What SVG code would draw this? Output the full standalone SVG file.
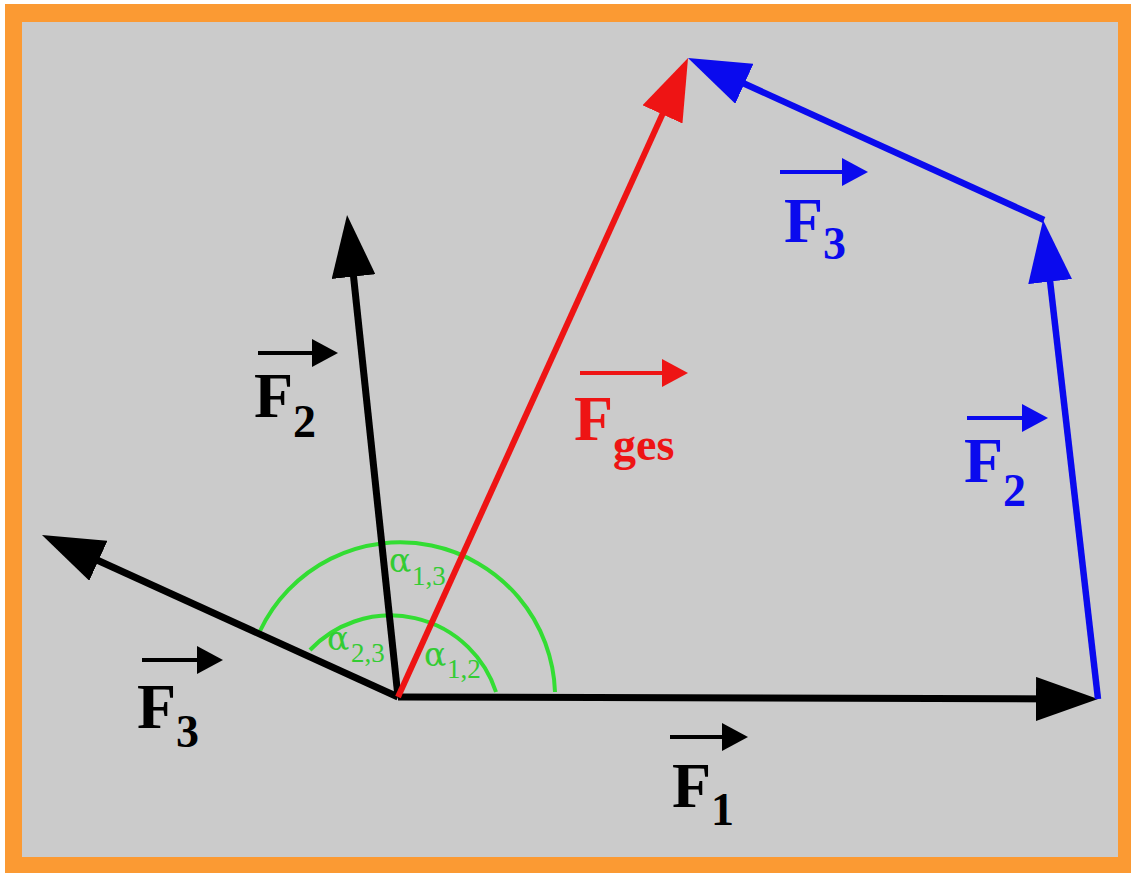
<svg xmlns="http://www.w3.org/2000/svg" width="1131" height="873" viewBox="0 0 1131 873">
<defs>
<style>
.frame{fill:#FB9A33}
.bg{fill:#CBCBCB}
.vk{stroke:#000;stroke-width:7;fill:none}
.vr{stroke:#EE1414;stroke-width:6;fill:none}
.vb{stroke:#0A0AEE;stroke-width:6.5;fill:none}
.sk{stroke:#000;stroke-width:4;fill:none}
.sr{stroke:#EE1414;stroke-width:4;fill:none}
.sb{stroke:#0A0AEE;stroke-width:4;fill:none}
.arc{stroke:#33DD33;stroke-width:4;fill:none}
.lbl{font-family:"Liberation Serif","Times New Roman",serif;font-weight:bold;font-size:64px}
.sub{font-size:46px}
.alpha{font-family:"DejaVu Serif","Liberation Serif",serif;fill:#33CC33;font-size:33px}
.asub{font-family:"Liberation Serif","Times New Roman",serif;font-size:27px}
</style>
<marker id="hk" markerUnits="userSpaceOnUse" viewBox="0 0 62 44" markerWidth="62" markerHeight="44" refX="30" refY="22" orient="auto"><path d="M0,0 L62,22 L0,44 z" fill="#000"/></marker>
<marker id="hr" markerUnits="userSpaceOnUse" viewBox="0 0 62 44" markerWidth="62" markerHeight="44" refX="30" refY="22" orient="auto"><path d="M0,0 L62,22 L0,44 z" fill="#EE1414"/></marker>
<marker id="hb" markerUnits="userSpaceOnUse" viewBox="0 0 62 44" markerWidth="62" markerHeight="44" refX="30" refY="22" orient="auto"><path d="M0,0 L62,22 L0,44 z" fill="#0A0AEE"/></marker>
<marker id="sk" markerUnits="userSpaceOnUse" viewBox="0 0 26 28" markerWidth="26" markerHeight="28" refX="6" refY="14" orient="auto"><path d="M0,0 L26,14 L0,28 z" fill="#000"/></marker>
<marker id="sr" markerUnits="userSpaceOnUse" viewBox="0 0 26 28" markerWidth="26" markerHeight="28" refX="6" refY="14" orient="auto"><path d="M0,0 L26,14 L0,28 z" fill="#EE1414"/></marker>
<marker id="sb" markerUnits="userSpaceOnUse" viewBox="0 0 26 28" markerWidth="26" markerHeight="28" refX="6" refY="14" orient="auto"><path d="M0,0 L26,14 L0,28 z" fill="#0A0AEE"/></marker>
</defs>
<rect x="0" y="0" width="1131" height="873" fill="#fff"/>
<rect class="frame" x="5" y="4" width="1126" height="869"/>
<rect class="bg" x="22" y="22" width="1096" height="835"/>

<g id="angles">
<path class="arc" d="M260,631 A155,155 0 0 1 555,692"/>
<path class="arc" d="M310,650 A111,111 0 0 1 496,692"/>
</g>

<g id="connectors">
<line id="F1" class="vk" x1="398" y1="697" x2="1066" y2="699" marker-end="url(#hk)"/>
<line id="F2" class="vk" x1="398" y1="697" x2="350.4" y2="246.8" marker-end="url(#hk)"/>
<line id="F3" class="vk" x1="398" y1="697" x2="71.1" y2="548.3" marker-end="url(#hk)"/>
<line id="Fges" class="vr" x1="398" y1="697" x2="674.8" y2="87.1" marker-end="url(#hr)"/>
<line id="F2b" class="vb" x1="1098" y1="699" x2="1046.7" y2="251.8" marker-end="url(#hb)"/>
<line id="F3b" class="vb" x1="1044" y1="220" x2="717.1" y2="71.3" marker-end="url(#hb)"/>
</g>

<g id="label-F1">
<line class="sk" x1="670" y1="737" x2="728" y2="737" marker-end="url(#sk)"/>
<text class="lbl" x="672" y="807">F<tspan class="sub" dy="18">1</tspan></text>
</g>
<g id="label-F2">
<line class="sk" x1="258" y1="353" x2="318" y2="353" marker-end="url(#sk)"/>
<text class="lbl" x="254" y="417">F<tspan class="sub" dy="20">2</tspan></text>
</g>
<g id="label-F3">
<line class="sk" x1="142" y1="660" x2="203" y2="660" marker-end="url(#sk)"/>
<text class="lbl" x="137" y="728">F<tspan class="sub" dy="19">3</tspan></text>
</g>
<g id="label-Fges" fill="#EE1414">
<line class="sr" x1="580" y1="373" x2="668" y2="373" marker-end="url(#sr)"/>
<text class="lbl" x="574" y="440">F<tspan class="sub" dy="20">ges</tspan></text>
</g>
<g id="label-F2b" fill="#0A0AEE">
<line class="sb" x1="967" y1="418" x2="1028" y2="418" marker-end="url(#sb)"/>
<text class="lbl" x="964" y="482">F<tspan class="sub" dy="24">2</tspan></text>
</g>
<g id="label-F3b" fill="#0A0AEE">
<line class="sb" x1="780" y1="172" x2="848" y2="172" marker-end="url(#sb)"/>
<text class="lbl" x="784" y="242">F<tspan class="sub" dy="17">3</tspan></text>
</g>

<g id="label-a13">
<text class="alpha" x="389" y="572">α<tspan class="asub" x="412" y="585">1,3</tspan></text>
</g>
<g id="label-a23">
<text class="alpha" x="327" y="650">α<tspan class="asub" x="351" y="662">2,3</tspan></text>
</g>
<g id="label-a12">
<text class="alpha" x="424" y="666">α<tspan class="asub" x="447" y="678">1,2</tspan></text>
</g>
</svg>
